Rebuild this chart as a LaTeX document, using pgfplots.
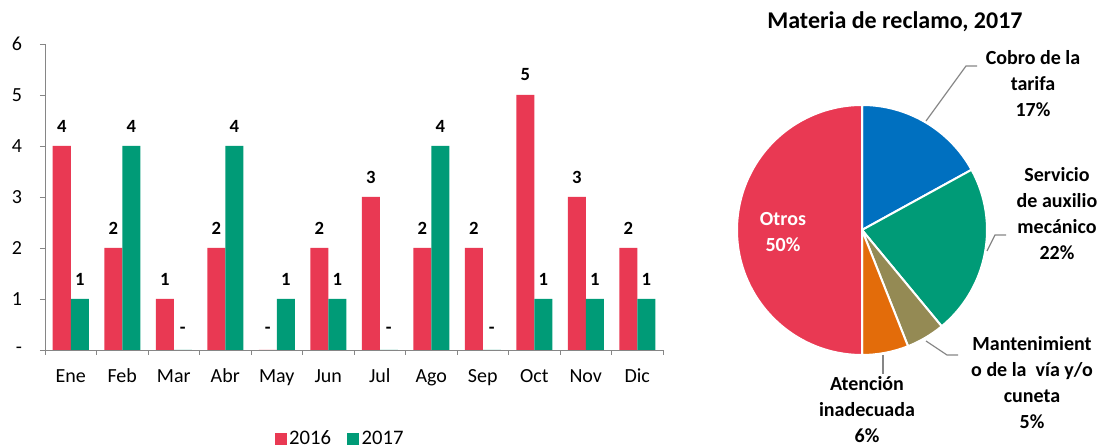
\documentclass[border=0pt]{standalone}
\usepackage{pgfplots}
\pgfplotsset{compat=1.18}
\usepackage{pgfplotstable}
\usepackage{fontspec}
\setmainfont{Carlito}

\definecolor{cred}{RGB}{233,57,83}
\definecolor{cgreen}{RGB}{0,155,119}
\definecolor{cblue}{RGB}{0,112,192}
\definecolor{corange}{RGB}{227,108,10}
\definecolor{colive}{RGB}{148,138,84}
\definecolor{axgray}{RGB}{134,134,134}

% monthly claims, 2016 (a) and 2017 (b)
\pgfplotstableread{
x a la b lb
0 4 4 1 1
1 2 2 4 4
2 1 1 0 -
3 2 2 4 4
4 0 - 1 1
5 2 2 1 1
6 3 3 0 -
7 2 2 4 4
8 2 2 0 -
9 5 5 1 1
10 3 3 1 1
11 2 2 1 1
}\bardata

% share by subject, 2017
\pgfplotstableread{
lab val col
Cobro 17 cblue
Servicio 22 cgreen
Mant 5 colive
Aten 6 corange
Otros 50 cred
}\piedata

\begin{document}
\begin{tikzpicture}
\path[use as bounding box] (0,0) rectangle (828pt,336pt);

\begin{axis}[
    at={(33.75pt,73.5pt)}, anchor=south west,
    scale only axis, width=463.5pt, height=229.5pt,
    ybar=0pt, bar width=13.5pt,
    xmin=-0.5, xmax=11.5, ymin=0, ymax=6,
    axis x line*=bottom, axis y line*=left,
    axis line style={axgray, -},
    tick align=outside,
    xtick={0,...,11},
    xticklabels={Ene,Feb,Mar,Abr,May,Jun,Jul,Ago,Sep,Oct,Nov,Dic},
    minor xtick={-0.5,0.5,...,11.5},
    major x tick style={draw=none},
    minor x tick style={axgray},
    minor tick length=3.75pt,
    major tick length=3.75pt,
    ytick={0,...,6},
    yticklabels={-,1,2,3,4,5,6},
    y tick style={axgray},
    tick label style={font=\fontsize{15}{17}\selectfont},
    xticklabel style={text height=1.55ex, text depth=0.3ex, yshift=-10pt},
    yticklabel style={xshift=-10pt},
    point meta=explicit symbolic,
    nodes near coords,
    every node near coord/.append style={anchor=center, yshift=15pt,
        font=\bfseries\fontsize{14}{16}\selectfont, text=black},
    legend style={at={(0.478,-0.29)}, anchor=center, draw=none,
        legend columns=2, font=\fontsize{15.5}{17}\selectfont,
        /tikz/every even column/.append style={column sep=10pt}},
    legend image code/.code={\fill[#1] (0pt,-4.5pt) rectangle (9pt,4.5pt);},
]
\addplot[fill=cred, draw=none] table[x=x, y=a, meta=la] {\bardata};
\addplot[fill=cgreen, draw=none] table[x=x, y=b, meta=lb] {\bardata};
\legend{2016,2017}
\end{axis}

\begin{axis}[
    at={(646.5pt,163.5pt)}, anchor=center,
    scale only axis, width=225pt, height=225pt,
    xmin=-1.2, xmax=1.2, ymin=-1.2, ymax=1.2,
    hide axis,
]
\def\startang{90}
\pgfplotsforeachungrouped \i in {0,...,4}{%
  \pgfplotstablegetelem{\i}{val}\of\piedata \let\v\pgfplotsretval
  \pgfplotstablegetelem{\i}{col}\of\piedata \let\c\pgfplotsretval
  \pgfmathsetmacro\endang{\startang-3.6*\v}%
  \edef\temp{\noexpand\fill[\c, draw=white, line width=1.5pt, line join=round]
    (axis cs:0,0) -- (axis cs:{cos(\startang)},{sin(\startang)})
    arc[start angle=\startang, end angle=\endang, radius=93.75pt] -- cycle;}%
  \temp
  \let\startang\endang
}
\end{axis}

\node[font=\bfseries\fontsize{18}{21}\selectfont] at (671.25pt,319.5pt) {Materia de reclamo, 2017};

\begin{scope}[every node/.style={align=center, font=\bfseries\fontsize{15}{19.5}\selectfont}]
\node at (774.75pt,273pt) {Cobro de la\\tarifa\\17\%};
\node at (792.75pt,175.5pt) {Servicio\\de auxilio\\mecánico\\22\%};
\node at (774pt,48.75pt) {Mantenimient\\o de la\ \ vía y/o\\cuneta\\5\%};
\node at (650.25pt,28.5pt) {Atención\\inadecuada\\6\%};
\node[text=white] at (587.25pt,162pt) {Otros\\50\%};
\end{scope}

\draw[axgray, line width=0.9pt] (694.5pt,245.25pt) -- (724.5pt,286.5pt) -- (732.75pt,286.5pt);
\draw[axgray, line width=0.9pt] (740.25pt,147.75pt) -- (746.25pt,159.75pt) -- (754.5pt,159.75pt);
\draw[axgray, line width=0.9pt] (694.5pt,80.25pt) -- (710.25pt,69.75pt) -- (718.5pt,69.75pt);
\draw[axgray, line width=0.9pt] (662.25pt,69.75pt) -- (662.25pt,55.5pt);
\end{tikzpicture}
\end{document}
